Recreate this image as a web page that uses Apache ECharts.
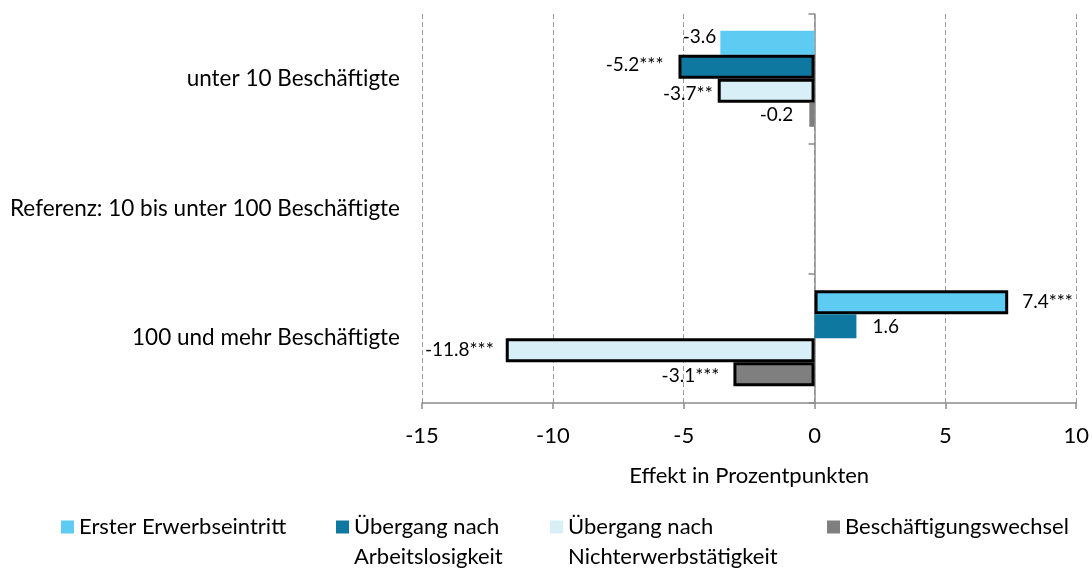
<!DOCTYPE html>
<html><head><meta charset="utf-8">
<script src="https://cdn.jsdelivr.net/npm/echarts@6/dist/echarts.min.js"></script>
<style>html,body{margin:0;padding:0;background:#fff}#c{width:1092px;height:568px}</style>
</head><body><div id="c"></div>
<script>
// ---- data ----
const categories = ['unter 10 Beschäftigte', 'Referenz: 10 bis unter 100 Beschäftigte', '100 und mehr Beschäftigte'];
const seriesNames = ['Erster Erwerbseintritt', 'Übergang nach Arbeitslosigkeit', 'Übergang nach Nichterwerbstätigkeit', 'Beschäftigungswechsel'];
const legendLabels = ['Erster Erwerbseintritt', 'Übergang nach\nArbeitslosigkeit', 'Übergang nach\nNichterwerbstätigkeit', 'Beschäftigungswechsel'];
const erster = [-3.6, null, 7.4];
const arbeitslos = [-5.2, null, 1.6];
const nichterwerb = [-3.7, null, -11.8];
const wechsel = [-0.2, null, -3.1];
const sigErster = ['', '', '***'];
const sigArbeitslos = ['***', '', ''];
const sigNichterwerb = ['**', '', '***'];
const sigWechsel = ['', '', '***'];
const xMin = -15, xMax = 10, xStep = 5;
const axisTitle = 'Effekt in Prozentpunkten';

// ---- styling ----
const FONT = 'Lato';
const colors = ['#5ECBF3', '#0F78A0', '#D9EFF8', '#7F7F7F'];
const values = [erster, arbeitslos, nichterwerb, wechsel];
const sigs = [sigErster, sigArbeitslos, sigNichterwerb, sigWechsel];
const legendLeft = [61, 336, 550, 827];
// per-label placement tweaks (series-category): [distance, dx, dy]
const labelTweak = {
  '0-0': [4, 0, -6], '1-0': [15, 0, -2], '2-0': [5, 0, 3], '3-0': [16, 0, 0],
  '0-2': [14, 0, 0], '1-2': [16, 0, 1], '2-2': [12, 0, 0], '3-2': [14, 0, 2]
};

const series = seriesNames.map((name, si) => ({
  name,
  type: 'bar',
  yAxisIndex: 0,
  barGap: '0%',
  barCategoryGap: '26%',
  itemStyle: { color: colors[si] },
  data: values[si].map((v, ci) => {
    if (v === null) return null;
    const s = sigs[si][ci];
    const t = labelTweak[si + '-' + ci] || [12, 0, 0];
    const item = {
      value: v,
      label: {
        show: true,
        position: v < 0 ? 'left' : 'right',
        distance: t[0],
        offset: [t[1], t[2]],
        formatter: v.toFixed(1) + s,
        fontFamily: FONT, fontSize: 19, color: '#000'
      }
    };
    if (s) item.itemStyle = { borderColor: '#000', borderWidth: 3 };
    return item;
  })
}));

const legends = seriesNames.map((n, i) => {
  const multi = legendLabels[i].indexOf('\n') >= 0;
  return {
    data: [n],
    left: legendLeft[i],
    top: multi ? 482 : 512,
    padding: 0,
    icon: 'rect',
    itemWidth: 13, itemHeight: 13,
    selectedMode: false,
    formatter: () => multi ? '\n' + legendLabels[i] : legendLabels[i],
    textStyle: { fontFamily: FONT, fontSize: 22, color: '#000', lineHeight: 30 }
  };
});

const chart = echarts.init(document.getElementById('c'));
chart.setOption({
  animation: false,
  backgroundColor: '#fff',
  color: colors,
  grid: { left: 422, right: 15, top: 14, bottom: 165 },
  legend: legends,
  xAxis: {
    type: 'value', min: xMin, max: xMax, interval: xStep,
    name: axisTitle, nameLocation: 'middle', nameGap: 62,
    nameTextStyle: { fontFamily: FONT, fontSize: 22, color: '#000' },
    axisLine: { show: true, lineStyle: { color: '#8C8C8C', width: 1.5 } },
    axisTick: { show: true, length: 6, lineStyle: { color: '#8C8C8C', width: 1.5 } },
    axisLabel: { fontFamily: FONT, fontSize: 22, color: '#000', margin: 22 },
    splitLine: { show: true, lineStyle: { color: '#9A9A9A', width: 1, type: [5, 3] } }
  },
  yAxis: [
    {
      type: 'category', data: categories, inverse: true,
      axisLine: { show: false, onZero: false },
      axisTick: { show: false },
      axisLabel: { fontFamily: FONT, fontSize: 22.5, color: '#000', margin: 22 }
    },
    {
      type: 'category', data: categories, inverse: true, position: 'left',
      axisLine: { show: true, onZero: true, onZeroAxisIndex: 0, lineStyle: { color: '#8C8C8C', width: 1.5 } },
      axisTick: { show: true, length: 6, lineStyle: { color: '#8C8C8C', width: 1.5 } },
      axisLabel: { show: false }
    }
  ],
  series
});
</script>
</body></html>
